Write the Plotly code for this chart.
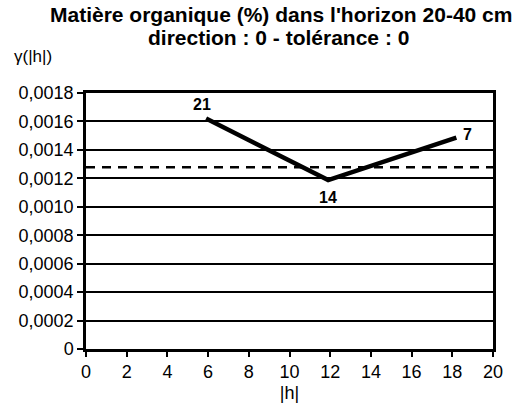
import plotly.graph_objects as go

# Experimental semivariogram: lag |h|, semivariance, number of pairs
lag = [5.9, 11.9, 18.2]
gamma = [0.00162, 0.001188, 0.001486]
pairs = [21, 14, 7]
sill = 0.001278  # sample variance (dashed reference line)

x_ticks = [0, 2, 4, 6, 8, 10, 12, 14, 16, 18, 20]
y_ticks = [0, 0.0002, 0.0004, 0.0006, 0.0008, 0.0010, 0.0012, 0.0014, 0.0016, 0.0018]
y_tick_text = ["0", "0,0002", "0,0004", "0,0006", "0,0008", "0,0010",
               "0,0012", "0,0014", "0,0016", "0,0018"]

font = "Liberation Sans, Arial, Helvetica, sans-serif"

fig = go.Figure()

fig.add_trace(go.Scatter(
    x=[x_ticks[0], x_ticks[-1]], y=[sill, sill], mode="lines",
    line=dict(color="black", width=2.5, dash="9px,7px"),
    hoverinfo="skip", showlegend=False,
))

fig.add_trace(go.Scatter(
    x=lag, y=gamma, mode="lines",
    line=dict(color="black", width=4.5),
    showlegend=False,
))

# pair counts next to each point
offsets = [(-4, 14), (0, -17), (11, 3)]
for xv, yv, n, (dx, dy) in zip(lag, gamma, pairs, offsets):
    fig.add_annotation(x=xv, y=yv, text=str(n), showarrow=False,
                       xshift=dx, yshift=dy, xanchor="center", yanchor="middle",
                       font=dict(family=font, size=16, color="black", weight="bold"))

# title lines and y-axis caption, placed in pixels then converted to paper coords
L, R, T, B, W, H = 86, 34, 93, 54, 527, 403
pw, ph = W - L - R, H - T - B


def px(xp, yp):
    return (xp - L) / pw, (H - B - yp) / ph


for text, (xp, yp), size, weight in [
    ("Matière organique (%) dans l'horizon 20-40 cm", (281, 14), 21, "bold"),
    ("direction : 0 - tolérance : 0", (278, 37), 21, "bold"),
    ("γ(|h|)", (33, 56), 17, "normal"),
]:
    xv, yv = px(xp, yp)
    fig.add_annotation(x=xv, y=yv, xref="paper", yref="paper", text=text,
                       showarrow=False, xanchor="center", yanchor="middle",
                       font=dict(family=font, size=size, color="black", weight=weight))

fig.update_layout(
    width=W, height=H,
    margin=dict(l=L, r=R, t=T, b=B),
    paper_bgcolor="white", plot_bgcolor="white",
    font=dict(family=font, size=18, color="black"),
)
fig.update_xaxes(
    range=[0, 20], tickvals=x_ticks, ticks="outside", ticklen=5, tickwidth=1.5,
    tickcolor="black", showgrid=False, zeroline=False, automargin=False,
    showline=True, linecolor="black", linewidth=2.5, mirror=True,
    title=dict(text="|h|", font=dict(size=18), standoff=6),
    tickfont=dict(size=18),
)
fig.update_yaxes(
    range=[0, 0.0018], tickvals=y_ticks, ticktext=y_tick_text, automargin=False,
    ticks="outside", ticklen=6, tickwidth=1.5, tickcolor="black",
    showgrid=True, gridcolor="black", gridwidth=1.5, zeroline=False,
    showline=True, linecolor="black", linewidth=2.5, mirror=True,
    tickfont=dict(size=18),
)

fig.write_html("out.html")
